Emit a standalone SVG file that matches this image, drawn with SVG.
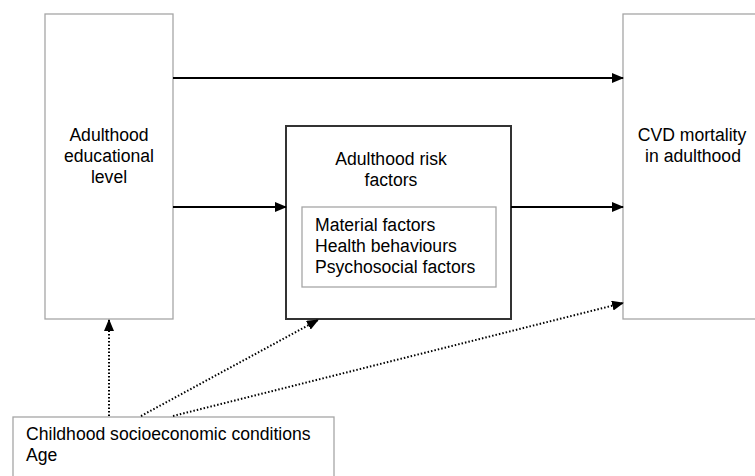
<svg xmlns="http://www.w3.org/2000/svg" width="755" height="476" viewBox="0 0 755 476">
<style>
text{font-family:"Liberation Sans",Arial,sans-serif;font-size:17.6px;fill:#000}
.gbox{fill:#fff;stroke:#a6a6a6;stroke-width:1.3}
.solid{stroke:#000;stroke-width:2;fill:none}
.dot{stroke:#000;stroke-width:2;stroke-dasharray:1.5 2;fill:none}
</style>
<defs>
<marker id="ah" markerWidth="12" markerHeight="10" refX="11" refY="5" orient="auto" markerUnits="userSpaceOnUse">
<path d="M0,0 L12,5 L0,10 Z" fill="#000"/>
</marker>
</defs>
<rect width="755" height="476" fill="#fff"/>
<g id="edu">
<rect class="gbox" x="45" y="14" width="128" height="305"/>
<text x="109" y="141" text-anchor="middle">Adulthood</text>
<text x="109" y="162" text-anchor="middle">educational</text>
<text x="109" y="183" text-anchor="middle">level</text>
</g>
<g id="cvd">
<rect class="gbox" x="623" y="14" width="140" height="305"/>
<text x="692" y="141" text-anchor="middle">CVD mortality</text>
<text x="693" y="162" text-anchor="middle">in adulthood</text>
</g>
<g id="risk">
<rect x="286" y="126" width="225" height="193" fill="#fff" stroke="#333" stroke-width="2"/>
<text x="391" y="165" text-anchor="middle">Adulthood risk</text>
<text x="391" y="186" text-anchor="middle">factors</text>
<rect class="gbox" x="302" y="207" width="194" height="80"/>
<text x="315" y="231">Material factors</text>
<text x="315" y="252">Health behaviours</text>
<text x="315" y="273">Psychosocial factors</text>
</g>
<g id="child">
<rect class="gbox" x="13" y="417" width="321" height="70"/>
<text x="26" y="440">Childhood socioeconomic conditions</text>
<text x="26" y="461">Age</text>
</g>
<g id="connectors">
<line class="solid" x1="173" y1="78" x2="623" y2="78" marker-end="url(#ah)"/>
<line class="solid" x1="173" y1="207" x2="286" y2="207" marker-end="url(#ah)"/>
<line class="solid" x1="511" y1="207" x2="623" y2="207" marker-end="url(#ah)"/>
<line class="dot" x1="109" y1="416" x2="109" y2="320" marker-end="url(#ah)"/>
<line class="dot" x1="141" y1="416" x2="318" y2="320" marker-end="url(#ah)"/>
<line class="dot" x1="173" y1="416" x2="623" y2="303" marker-end="url(#ah)"/>
</g>
</svg>
